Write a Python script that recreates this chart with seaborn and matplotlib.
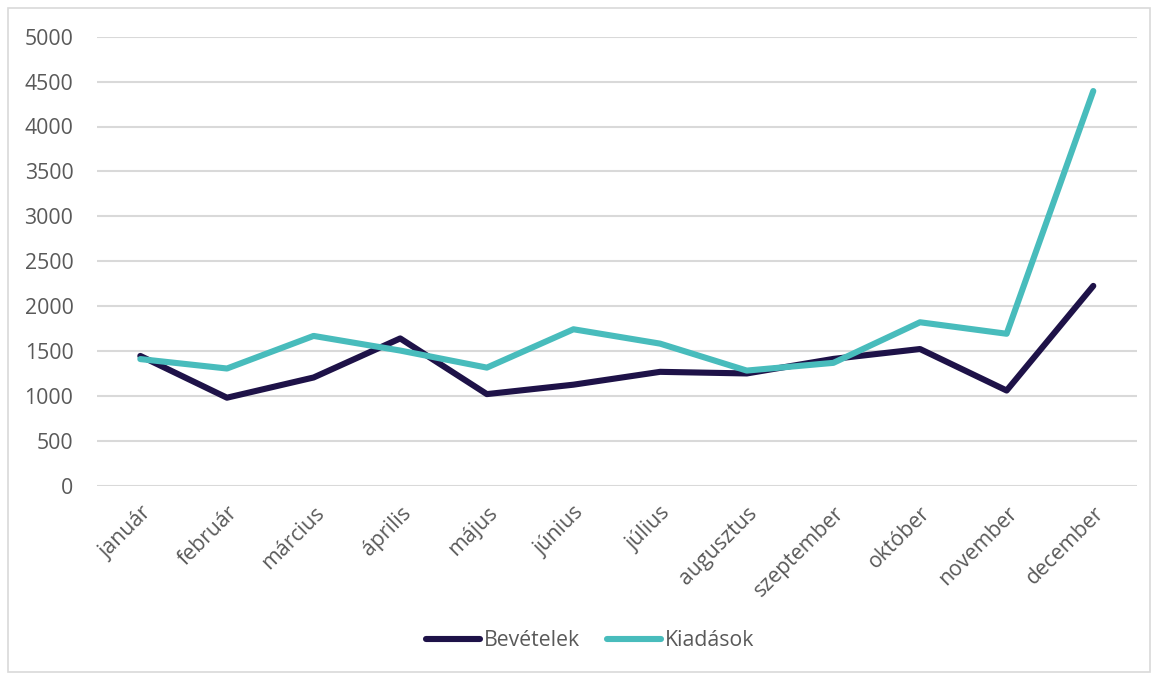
import matplotlib
matplotlib.use("Agg")
import matplotlib.pyplot as plt
import seaborn as sns
import pandas as pd
from matplotlib.patches import Rectangle

months = ["január", "február", "március", "április", "május", "június",
          "július", "augusztus", "szeptember", "október", "november", "december"]
bevetelek = [1445, 980, 1205, 1640, 1020, 1125, 1268, 1250, 1412, 1522, 1060, 2225]
kiadasok = [1410, 1305, 1668, 1505, 1315, 1742, 1582, 1282, 1368, 1820, 1692, 4395]
series_names = ["Bevételek", "Kiadások"]
yticks = [0, 500, 1000, 1500, 2000, 2500, 3000, 3500, 4000, 4500, 5000]

df = pd.DataFrame({
    "hónap": months * 2,
    "idx": list(range(len(months))) * 2,
    "érték": bevetelek + kiadasok,
    "sorozat": [series_names[0]] * len(months) + [series_names[1]] * len(months),
})

sns.set_theme(style="white")
plt.rcParams["font.family"] = ["Open Sans", "DejaVu Sans"]

FS = 15.3

fig = plt.figure(figsize=(11.59, 6.78), dpi=100)
ax = fig.add_axes([97 / 1159, 1 - 485.7 / 678, (1136.6 - 97) / 1159, (485.7 - 36.7) / 678])

palette = {series_names[0]: "#1E1248", series_names[1]: "#48BCBC"}
sns.lineplot(data=df, x="idx", y="érték", hue="sorozat", palette=palette,
             linewidth=4.4, ax=ax, legend=True, solid_capstyle="round")

ax.set_xlim(-0.5, len(months) - 0.5)
ax.set_ylim(0, 5000)
ax.set_yticks(yticks)
ax.set_yticklabels([str(v) for v in yticks])
ax.set_xticks(range(len(months)))
ax.set_xticklabels(months, rotation=45, ha="right", rotation_mode="anchor")
ax.tick_params(axis="both", colors="#595959", labelsize=FS, length=0)
ax.tick_params(axis="y", pad=17)
ax.tick_params(axis="x", pad=12)
ax.set_xlabel("")
ax.set_ylabel("")
ax.yaxis.grid(True, color="#D9D9D9", linewidth=1.5)
ax.xaxis.grid(False)
ax.set_axisbelow(True)
for s in ax.spines.values():
    s.set_visible(False)

leg = ax.legend(loc="center", bbox_to_anchor=(590 / 1159, 1 - 641 / 678),
                bbox_transform=fig.transFigure, ncol=2, frameon=False,
                fontsize=FS, handlelength=2.55, handletextpad=0.2, columnspacing=1.25)
for t in leg.get_texts():
    t.set_color("#595959")
for l in leg.get_lines():
    l.set_linewidth(4.4)
    l.set_solid_capstyle("round")

fig.patches.append(Rectangle((8 / 1159, 1 - 672 / 678), (1150 - 8) / 1159, (672 - 8) / 678,
                             transform=fig.transFigure, fill=False,
                             edgecolor="#D9D9D9", linewidth=1.2))

fig.savefig("out.png", dpi=100)
